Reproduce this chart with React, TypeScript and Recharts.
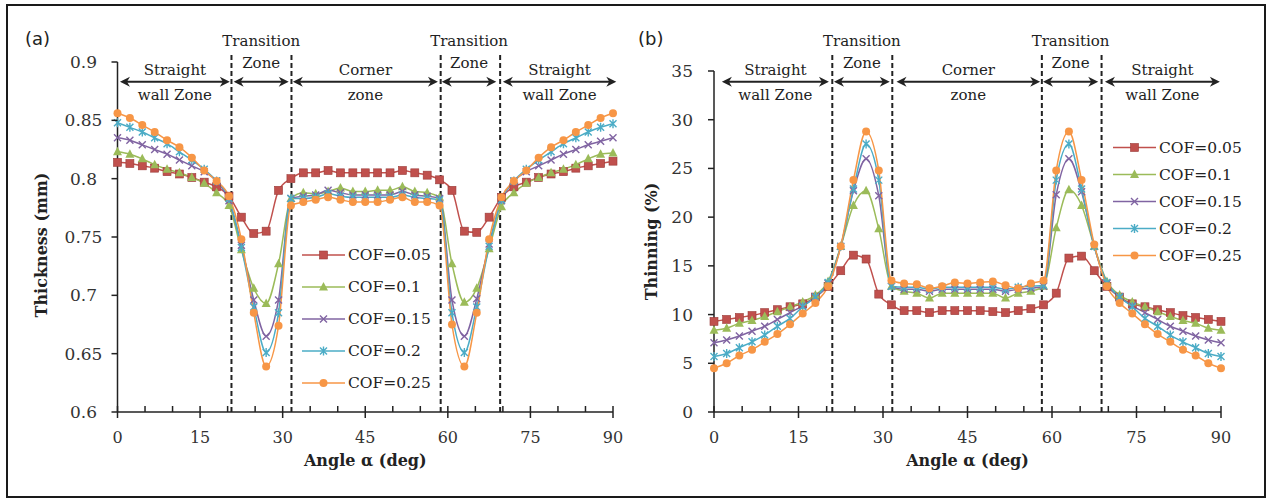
import React from "react";
import { LineChart, Line, XAxis, YAxis, ReferenceLine, Legend } from "recharts";

const SERIF = "DejaVu Serif";
const INK = "#222";

// angle along the part, deg
const angles = [
  0, 2.25, 4.5, 6.75, 9, 11.25, 13.5, 15.75, 18, 20.25, 22.5, 24.75, 27, 29.25, 31.5, 33.75, 36, 38.25, 40.5, 42.75,
  45, 47.25, 49.5, 51.75, 54, 56.25, 58.5, 60.75, 63, 65.25, 67.5, 69.75, 72, 74.25, 76.5, 78.75, 81, 83.25, 85.5,
  87.75, 90,
];

const cofNames = ["COF=0.05", "COF=0.1", "COF=0.15", "COF=0.2", "COF=0.25"];

// (a) thickness, mm
const thick005 = [
  0.814, 0.813, 0.811, 0.809, 0.806, 0.804, 0.801, 0.797, 0.793, 0.785, 0.767, 0.753, 0.755, 0.79, 0.8, 0.805, 0.805,
  0.807, 0.805, 0.805, 0.805, 0.805, 0.805, 0.807, 0.805, 0.803, 0.799, 0.79, 0.755, 0.754, 0.767, 0.784, 0.793, 0.797,
  0.801, 0.804, 0.806, 0.809, 0.811, 0.813, 0.815,
];
const thick01 = [
  0.823, 0.821, 0.817, 0.812, 0.808, 0.805, 0.801, 0.796, 0.788, 0.777, 0.739, 0.706, 0.693, 0.727, 0.783, 0.788, 0.787,
  0.789, 0.792, 0.789, 0.789, 0.79, 0.79, 0.793, 0.789, 0.788, 0.784, 0.727, 0.694, 0.706, 0.74, 0.776, 0.788, 0.796,
  0.801, 0.805, 0.808, 0.812, 0.817, 0.821, 0.822,
];
const thick015 = [
  0.835, 0.833, 0.829, 0.825, 0.821, 0.816, 0.811, 0.806, 0.798, 0.781, 0.743, 0.696, 0.665, 0.696, 0.783, 0.785, 0.786,
  0.79, 0.788, 0.786, 0.786, 0.786, 0.786, 0.789, 0.786, 0.785, 0.783, 0.696, 0.665, 0.697, 0.744, 0.781, 0.798, 0.806,
  0.811, 0.816, 0.821, 0.825, 0.829, 0.832, 0.835,
];
const thick02 = [
  0.848, 0.844, 0.84, 0.835, 0.83, 0.823, 0.816, 0.808, 0.798, 0.783, 0.741, 0.69, 0.651, 0.685, 0.783, 0.783, 0.784,
  0.787, 0.785, 0.784, 0.784, 0.784, 0.784, 0.786, 0.784, 0.783, 0.782, 0.685, 0.651, 0.69, 0.742, 0.782, 0.798, 0.808,
  0.816, 0.823, 0.83, 0.835, 0.84, 0.844, 0.847,
];
const thick025 = [
  0.856, 0.852, 0.846, 0.84, 0.833, 0.827, 0.818, 0.807, 0.798, 0.785, 0.748, 0.685, 0.639, 0.674, 0.777, 0.78, 0.782,
  0.784, 0.782, 0.78, 0.78, 0.78, 0.782, 0.784, 0.78, 0.78, 0.777, 0.675, 0.639, 0.685, 0.748, 0.784, 0.798, 0.807,
  0.818, 0.827, 0.833, 0.84, 0.846, 0.852, 0.856,
];

// (b) thinning, %
const thin005 = [
  9.3, 9.5, 9.7, 9.9, 10.2, 10.5, 10.8, 11.1, 11.8, 12.9, 14.5, 16.1, 15.7, 12.1, 11.0, 10.4, 10.4, 10.2, 10.4, 10.4,
  10.4, 10.4, 10.3, 10.2, 10.4, 10.6, 11.0, 12.2, 15.8, 16.0, 14.5, 12.9, 11.8, 11.1, 10.8, 10.5, 10.2, 9.9, 9.7, 9.5,
  9.3,
];
const thin01 = [
  8.4, 8.6, 9.1, 9.4, 9.8, 10.3, 10.8, 11.3, 12.0, 13.4, 17.0, 21.2, 22.7, 18.8, 12.9, 12.4, 12.2, 11.7, 12.2, 12.2,
  12.2, 12.2, 12.2, 11.7, 12.2, 12.4, 12.9, 18.9, 22.8, 21.2, 17.0, 13.4, 12.0, 11.3, 10.8, 10.3, 9.8, 9.4, 9.1, 8.6,
  8.4,
];
const thin015 = [
  7.1, 7.4, 7.8, 8.3, 8.8, 9.5, 10.2, 10.9, 11.8, 13.2, 17.0, 22.7, 26.0, 22.2, 12.9, 12.6, 12.6, 12.4, 12.6, 12.6,
  12.6, 12.6, 12.6, 12.4, 12.6, 12.7, 12.9, 22.3, 26.0, 22.6, 17.0, 13.2, 11.8, 10.9, 10.2, 9.5, 8.8, 8.3, 7.8, 7.4,
  7.1,
];
const thin02 = [
  5.7, 6.0, 6.6, 7.2, 7.9, 8.8, 9.6, 10.8, 11.8, 13.3, 17.0, 22.9, 27.5, 23.8, 12.9, 12.8, 12.8, 12.6, 12.8, 12.8, 12.8,
  12.8, 12.8, 12.6, 12.8, 12.9, 13.0, 23.8, 27.5, 22.9, 17.0, 13.3, 11.8, 10.8, 9.6, 8.8, 7.9, 7.2, 6.6, 6.0, 5.7,
];
const thin025 = [
  4.5, 5.0, 5.8, 6.4, 7.2, 8.0, 9.0, 10.1, 11.2, 12.9, 17.0, 23.8, 28.8, 24.8, 13.5, 13.2, 13.1, 12.7, 12.9, 13.3, 13.2,
  13.3, 13.4, 13.0, 12.7, 13.2, 13.5, 24.8, 28.8, 23.8, 17.2, 12.9, 11.2, 10.1, 9.0, 8.0, 7.2, 6.4, 5.8, 5.0, 4.5,
];

const xTicks = [0, 5, 10, 15, 20, 25, 30, 35, 40, 45, 50, 55, 60, 65, 70, 75, 80, 85, 90];
const xLabels = [0, 15, 30, 45, 60, 75, 90];
const thickTicks = [0.6, 0.65, 0.7, 0.75, 0.8, 0.85, 0.9];
const thinTicks = [0, 5, 10, 15, 20, 25, 30, 35];

// zone boundaries (deg) and zone names
const boundsA = [20.7, 31.6, 58.7, 69.5];
const boundsB = [21.0, 31.65, 58.2, 68.8];
const zoneNames = [
  ["Straight", "wall Zone"],
  ["Transition", "Zone"],
  ["Corner", "zone"],
  ["Transition", "Zone"],
  ["Straight", "wall Zone"],
];
const arrowsA = [
  [0.45, 20.4],
  [21.1, 31.1],
  [31.85, 58.2],
  [58.9, 68.8],
  [70.0, 90.6],
];
const arrowsB = [
  [1.4, 20.4],
  [21.3, 31.2],
  [32.4, 57.9],
  [58.4, 68.2],
  [69.4, 89.8],
];

const seriesStyle = [
  { key: "c1", color: "#C0504D", shape: "square" },
  { key: "c2", color: "#9BBB59", shape: "triangle" },
  { key: "c3", color: "#8064A2", shape: "cross" },
  { key: "c4", color: "#4BACC6", shape: "star" },
  { key: "c5", color: "#F79646", shape: "circle" },
];

const toRows = (cols: number[][]) =>
  angles.map((angle, i) => ({
    angle,
    c1: cols[0][i],
    c2: cols[1][i],
    c3: cols[2][i],
    c4: cols[3][i],
    c5: cols[4][i],
  }));

const thicknessRows = toRows([thick005, thick01, thick015, thick02, thick025]);
const thinningRows = toRows([thin005, thin01, thin015, thin02, thin025]);

function Marker({ shape, cx, cy, color }: any) {
  if (cx == null || cy == null) return null;
  switch (shape) {
    case "square":
      return <rect x={cx - 4} y={cy - 4} width={8} height={8} fill={color} stroke="#9a3a38" strokeWidth={0.6} />;
    case "triangle":
      return <polygon points={`${cx},${cy - 5} ${cx + 4.5},${cy + 3.5} ${cx - 4.5},${cy + 3.5}`} fill={color} />;
    case "cross":
      return (
        <path
          d={`M${cx - 3.5},${cy - 3.5}L${cx + 3.5},${cy + 3.5}M${cx - 3.5},${cy + 3.5}L${cx + 3.5},${cy - 3.5}`}
          stroke={color}
          strokeWidth={1.4}
        />
      );
    case "star":
      return (
        <path
          d={`M${cx - 3.5},${cy - 3.5}L${cx + 3.5},${cy + 3.5}M${cx - 3.5},${cy + 3.5}L${cx + 3.5},${cy - 3.5}M${cx},${cy - 4.5}L${cx},${cy + 4.5}`}
          stroke={color}
          strokeWidth={1.4}
        />
      );
    default:
      return <circle cx={cx} cy={cy} r={4} fill={color} />;
  }
}

function XTick({ x, y, payload }: any) {
  const major = xLabels.includes(payload.value);
  return (
    <g>
      <line x1={x} x2={x} y1={y - 6} y2={major ? y + 6 : y} stroke={INK} strokeWidth={1.5} />
      {major && (
        <text x={x} y={y + 25} textAnchor="middle" dominantBaseline="central" fontFamily={SERIF} fontSize={16} fill="#333">
          {payload.value}
        </text>
      )}
    </g>
  );
}

function YTick({ x, y, payload, anchor, gap }: any) {
  return (
    <g>
      <line x1={x - 6} x2={x} y1={y} y2={y} stroke={INK} strokeWidth={1.5} />
      <text x={x - gap} y={y} textAnchor={anchor} dominantBaseline="central" fontFamily={SERIF} fontSize={17} fill="#333">
        {payload.value}
      </text>
    </g>
  );
}

function ZoneArrow({ x1, x2, y1, top, bottom, transition }: any) {
  const y = y1;
  const cx = (x1 + x2) / 2;
  const t = { textAnchor: "middle" as const, fontFamily: SERIF, fontSize: 15, fill: INK };
  return (
    <g>
      <line x1={x1 + 5} x2={x2 - 5} y1={y} y2={y} stroke={INK} strokeWidth={2} />
      <polygon points={`${x1},${y} ${x1 + 10},${y - 5} ${x1 + 7},${y} ${x1 + 10},${y + 5}`} fill={INK} />
      <polygon points={`${x2},${y} ${x2 - 10},${y - 5} ${x2 - 7},${y} ${x2 - 10},${y + 5}`} fill={INK} />
      <text x={cx} y={transition ? y - 36 : y - 7} {...t}>
        {top}
      </text>
      <text x={cx} y={transition ? y - 14 : y + 18} {...t}>
        {bottom}
      </text>
    </g>
  );
}

function LegendBox({ rowH }: { rowH: number }) {
  return (
    <svg width={140} height={rowH * 5} style={{ display: "block" }}>
      {seriesStyle.map((s, i) => {
        const y = rowH * i + rowH / 2;
        return (
          <g key={s.key}>
            <line x1={0} x2={43} y1={y} y2={y} stroke={s.color} strokeWidth={1.5} />
            <Marker shape={s.shape} cx={21.5} cy={y} color={s.color} />
            <text x={46} y={y} dominantBaseline="central" fontFamily={SERIF} fontSize={15.5} fill={INK}>
              {cofNames[i]}
            </text>
          </g>
        );
      })}
    </svg>
  );
}

function Panel(props: any) {
  const {
    left, width, margin, yAxisWidth, data, yDomain, yTicks, yAnchor, yGap, yTitle, yTitleX, yTitleShift,
    bounds, arrows, arrowY, dashTop, legendLeft, legendTop, rowH,
  } = props;
  return (
    <div style={{ position: "absolute", left, top: 0 }}>
      <LineChart width={width} height={502} data={data} margin={margin}>
        <XAxis
          type="number"
          dataKey="angle"
          domain={[0, 90]}
          ticks={xTicks}
          interval={0}
          tickSize={0}
          tickMargin={0}
          tickLine={false}
          tick={(p: any) => <XTick {...p} />}
          height={40}
          axisLine={{ stroke: INK, strokeWidth: 1.5 }}
          label={(p: any) => (
            <text
              x={p.viewBox.x + p.viewBox.width / 2}
              y={p.viewBox.y + 48}
              textAnchor="middle"
              dominantBaseline="central"
              fontFamily={SERIF}
              fontWeight="bold"
              fontSize={16}
              fill={INK}
            >
              Angle α (deg)
            </text>
          )}
        />
        <YAxis
          type="number"
          domain={yDomain}
          ticks={yTicks}
          interval={0}
          width={yAxisWidth}
          tickSize={0}
          tickMargin={0}
          tickLine={false}
          tick={(p: any) => <YTick {...p} anchor={yAnchor} gap={yGap} />}
          axisLine={{ stroke: INK, strokeWidth: 1.5 }}
          label={(p: any) => {
            const cx = p.viewBox.x + yTitleX;
            const cy = p.viewBox.y + p.viewBox.height / 2 + yTitleShift;
            return (
              <text
                x={cx}
                y={cy}
                transform={`rotate(-90 ${cx} ${cy})`}
                textAnchor="middle"
                dominantBaseline="central"
                fontFamily={SERIF}
                fontWeight="bold"
                fontSize={16}
                fill={INK}
              >
                {yTitle}
              </text>
            );
          }}
        />
        {bounds.map((b: number) => (
          <ReferenceLine
            key={`b${b}`}
            segment={[
              { x: b, y: yDomain[0] },
              { x: b, y: dashTop },
            ]}
            stroke={INK}
            strokeWidth={2}
            strokeDasharray="5 3"
            ifOverflow="visible"
          />
        ))}
        {arrows.map((a: number[], i: number) => (
          <ReferenceLine
            key={`z${i}`}
            segment={[
              { x: a[0], y: arrowY },
              { x: a[1], y: arrowY },
            ]}
            ifOverflow="visible"
            shape={(p: any) => (
              <ZoneArrow {...p} top={zoneNames[i][0]} bottom={zoneNames[i][1]} transition={i === 1 || i === 3} />
            )}
          />
        ))}
        {seriesStyle.map((s, i) => (
          <Line
            key={s.key}
            type="monotone"
            dataKey={s.key}
            name={cofNames[i]}
            stroke={s.color}
            strokeWidth={1.5}
            dot={(p: any) => <Marker key={`${s.key}-${p.index}`} shape={s.shape} cx={p.cx} cy={p.cy} color={s.color} />}
            activeDot={false}
            isAnimationActive={false}
          />
        ))}
        <Legend
          layout="vertical"
          align="center"
          verticalAlign="middle"
          wrapperStyle={{ left: legendLeft, top: legendTop, width: 140, height: rowH * 5, margin: 0 }}
          content={() => <LegendBox rowH={rowH} />}
        />
      </LineChart>
    </div>
  );
}

export default function App() {
  return (
    <div style={{ position: "absolute", left: 0, top: 0, width: 1268, height: 502, background: "#fff", overflow: "hidden" }}>
      <div
        style={{
          position: "absolute",
          left: 6,
          top: 4,
          width: 1256,
          height: 490,
          border: "2px solid #1a1a1a",
        }}
      />
      <div style={{ position: "absolute", left: 25, top: 30, fontFamily: "DejaVu Sans", fontSize: 18, lineHeight: "18px", color: INK }}>
        (a)
      </div>
      <div style={{ position: "absolute", left: 638, top: 30, fontFamily: "DejaVu Sans", fontSize: 18, lineHeight: "18px", color: INK }}>
        (b)
      </div>
      <Panel
        left={0}
        width={640}
        margin={{ top: 62, right: 27, bottom: 50, left: 0 }}
        yAxisWidth={117.5}
        data={thicknessRows}
        yDomain={[0.6, 0.9]}
        yTicks={thickTicks}
        yAnchor="middle"
        yGap={34}
        yTitle="Thickness (mm)"
        yTitleX={41}
        yTitleShift={8}
        bounds={boundsA}
        arrows={arrowsA}
        arrowY={0.8831}
        dashTop={0.906}
        legendLeft={302}
        legendTop={239}
        rowH={32}
      />
      <Panel
        left={630}
        width={620}
        margin={{ top: 71, right: 29, bottom: 50, left: 0 }}
        yAxisWidth={84}
        data={thinningRows}
        yDomain={[0, 35]}
        yTicks={thinTicks}
        yAnchor="end"
        yGap={21}
        yTitle="Thinning (%)"
        yTitleX={21.5}
        yTitleShift={0}
        bounds={boundsB}
        arrows={arrowsB}
        arrowY={33.9}
        dashTop={36.64}
        legendLeft={483}
        legendTop={133.5}
        rowH={27}
      />
    </div>
  );
}
